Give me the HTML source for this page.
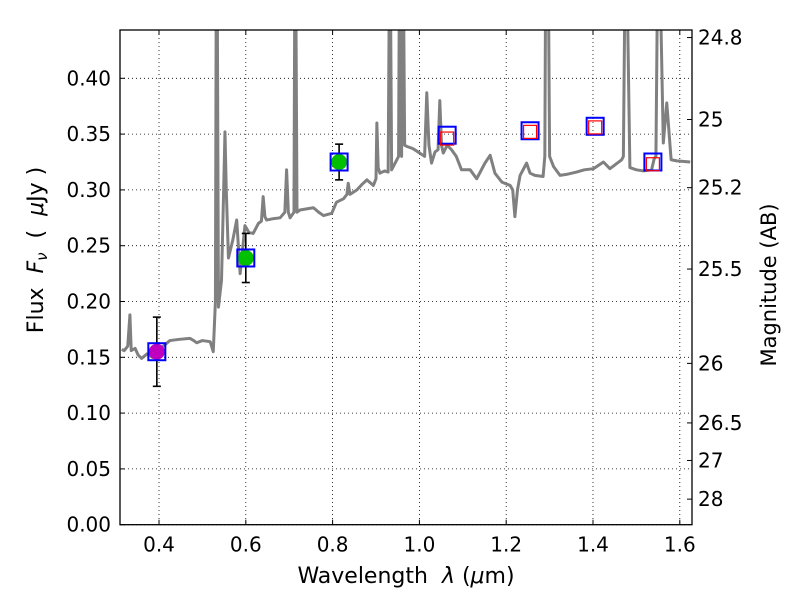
<!DOCTYPE html>
<html><head><meta charset="utf-8">
<style>body{margin:0;background:#fff}svg{display:block;font-family:"DejaVu Sans","Liberation Sans",sans-serif}</style>
</head><body>
<svg id="c" width="800" height="600"></svg>
<script>
const specLam=[0.314,0.320,0.328,0.333,0.336,0.345,0.352,0.360,0.372,0.385,0.395,0.410,0.425,0.445,0.471,0.480,0.487,0.500,0.518,0.525,0.530,0.532,0.534,0.537,0.544,0.549,0.552,0.555,0.560,0.570,0.579,0.587,0.598,0.607,0.617,0.629,0.636,0.640,0.644,0.648,0.660,0.679,0.690,0.694,0.698,0.702,0.711,0.713,0.715,0.718,0.725,0.740,0.756,0.768,0.779,0.798,0.809,0.825,0.833,0.836,0.840,0.856,0.868,0.879,0.894,0.900,0.902,0.905,0.909,0.920,0.928,0.931,0.933,0.936,0.948,0.952,0.954,0.956,0.959,0.961,0.963,0.966,0.971,0.985,1.001,1.012,1.017,1.022,1.028,1.036,1.043,1.047,1.051,1.055,1.064,1.074,1.085,1.097,1.117,1.132,1.151,1.163,1.174,1.190,1.209,1.215,1.220,1.226,1.232,1.247,1.255,1.266,1.285,1.289,1.291,1.297,1.300,1.309,1.324,1.340,1.362,1.380,1.401,1.424,1.439,1.466,1.470,1.474,1.478,1.485,1.500,1.516,1.535,1.541,1.545,1.549,1.554,1.562,1.570,1.580,1.593,1.624];
const specFlux=[0.157,0.156,0.160,0.188,0.156,0.158,0.152,0.149,0.153,0.150,0.156,0.160,0.165,0.166,0.167,0.165,0.163,0.165,0.164,0.155,0.20,0.50,0.50,0.195,0.219,0.30,0.352,0.30,0.239,0.255,0.273,0.225,0.268,0.262,0.261,0.270,0.272,0.294,0.276,0.273,0.274,0.275,0.280,0.318,0.280,0.275,0.28,0.50,0.50,0.28,0.282,0.283,0.284,0.280,0.277,0.279,0.289,0.292,0.296,0.306,0.296,0.300,0.305,0.309,0.304,0.310,0.360,0.320,0.315,0.317,0.316,0.50,0.50,0.318,0.327,0.33,0.50,0.50,0.33,0.50,0.50,0.34,0.339,0.337,0.333,0.330,0.387,0.340,0.324,0.334,0.336,0.380,0.340,0.333,0.340,0.336,0.330,0.318,0.318,0.310,0.324,0.331,0.315,0.307,0.304,0.300,0.276,0.300,0.313,0.324,0.315,0.313,0.312,0.33,0.50,0.50,0.33,0.321,0.313,0.314,0.316,0.318,0.319,0.325,0.319,0.327,0.33,0.50,0.50,0.32,0.318,0.317,0.318,0.328,0.33,0.50,0.50,0.342,0.378,0.327,0.326,0.325,0.324];
const photLam=[0.395,0.600,0.815];
const photFlux=[0.155,0.239,0.325];
const photErr=[0.031,0.022,0.016];
const photColor=['#bf00bf','#00c000','#00c000'];
const modelLam=[0.395,0.600,0.815,1.064,1.255,1.405,1.538];
const modelFlux=[0.155,0.239,0.325,0.349,0.353,0.357,0.325];
const redLam=[1.064,1.255,1.405,1.538];
const redFlux=[0.346,0.352,0.356,0.323];
const xTicks=[0.4,0.6,0.8,1.0,1.2,1.4,1.6];
const yTicks=[0,0.05,0.10,0.15,0.20,0.25,0.30,0.35,0.40];
const magTicks=[24.8,25,25.2,25.5,26,26.5,27,28];

const L=120,R=692,T=30,B=524.7;
const X=v=>159+(v-0.4)*434;
const Y=v=>B-v*1116;
const svg=document.getElementById('c');
const NS='http://www.w3.org/2000/svg';
function mk(tag,attrs,parent){const e=document.createElementNS(NS,tag);for(const k in attrs)e.setAttribute(k,attrs[k]);(parent||svg).appendChild(e);return e;}
const defs=mk('defs',{});const cp=mk('clipPath',{id:'clip'},defs);mk('rect',{x:L,y:T,width:R-L,height:B-T},cp);

xTicks.forEach(t=>{const g=mk('line',{x1:X(t),x2:X(t),y1:T,y2:B,stroke:'#000','stroke-width':0.8,'stroke-dasharray':'1,3'});
});
yTicks.forEach(t=>{const g=mk('line',{x1:L,x2:R,y1:Y(t),y2:Y(t),stroke:'#000','stroke-width':0.8,'stroke-dasharray':'1,3'});
});

const pl=mk('polyline',{points:specLam.map((l,i)=>X(l)+','+Y(specFlux[i])).join(' '),fill:'none',stroke:'#808080','stroke-width':3,'clip-path':'url(#clip)','stroke-linejoin':'round'});


photLam.forEach((l,i)=>{const x=X(l),y1=Y(photFlux[i]-photErr[i]),y2=Y(photFlux[i]+photErr[i]);
const g=mk('g',{stroke:'#000','stroke-width':1.6});

mk('line',{x1:x,x2:x,y1:y1,y2:y2},g);mk('line',{x1:x-4,x2:x+4,y1:y1,y2:y1},g);mk('line',{x1:x-4,x2:x+4,y1:y2,y2:y2},g);
const c=mk('circle',{cx:x,cy:Y(photFlux[i]),r:8,fill:photColor[i]});
});
modelLam.forEach((l,i)=>{const r=mk('rect',{x:X(l)-8.5,y:Y(modelFlux[i])-8.5,width:17,height:17,fill:'none',stroke:'#0000ff','stroke-width':2});
});
redLam.forEach((l,i)=>{const r=mk('rect',{x:X(l)-6.5,y:Y(redFlux[i])-6.5,width:13,height:13,fill:'none',stroke:'#ff0000','stroke-width':1.2});
});

const fr=mk('rect',{x:L,y:T,width:R-L,height:B-T,fill:'none',stroke:'#000','stroke-width':1.3});


xTicks.forEach(t=>{mk('line',{x1:X(t),x2:X(t),y1:B,y2:B-5,stroke:'#000'});mk('line',{x1:X(t),x2:X(t),y1:T,y2:T+5,stroke:'#000'});
const tx=mk('text',{x:X(t),y:B+27,'text-anchor':'middle','font-size':20});tx.textContent=t.toFixed(1);
});
yTicks.forEach(t=>{mk('line',{x1:L,x2:L+5,y1:Y(t),y2:Y(t),stroke:'#000'});
const tx=mk('text',{x:L-9,y:Y(t)+7,'text-anchor':'end','font-size':20});tx.textContent=t.toFixed(2);
});
magTicks.forEach(m=>{const y=Y(Math.pow(10,(23.9-m)/2.5));mk('line',{x1:R,x2:R-5,y1:y,y2:y,stroke:'#000'});
const tx=mk('text',{x:R+6,y:y+7,'font-size':20});tx.textContent=String(m);
});
</script>
<div style="position:absolute;left:0;top:0;width:800px;height:600px;pointer-events:none">
<svg width="800" height="600" style="position:absolute;left:0;top:0">
<text x="406" y="583" text-anchor="middle" font-size="22" font-family="DejaVu Sans,sans-serif" xml:space="preserve">Wavelength  <tspan font-style="italic">λ</tspan> (<tspan font-style="italic">μ</tspan>m)</text>
<text transform="translate(43,250) rotate(-90)" text-anchor="middle" font-size="22" font-family="DejaVu Sans,sans-serif" xml:space="preserve">Flux  <tspan font-style="italic">F</tspan><tspan font-style="italic" font-size="15" dy="4">ν</tspan><tspan dy="-4">  (  </tspan><tspan font-style="italic">μ</tspan>Jy )</text>
<text transform="translate(776,285) rotate(-90)" text-anchor="middle" font-size="21" font-family="DejaVu Sans,sans-serif">Magnitude (AB)</text>
</svg></div>
</body></html>
